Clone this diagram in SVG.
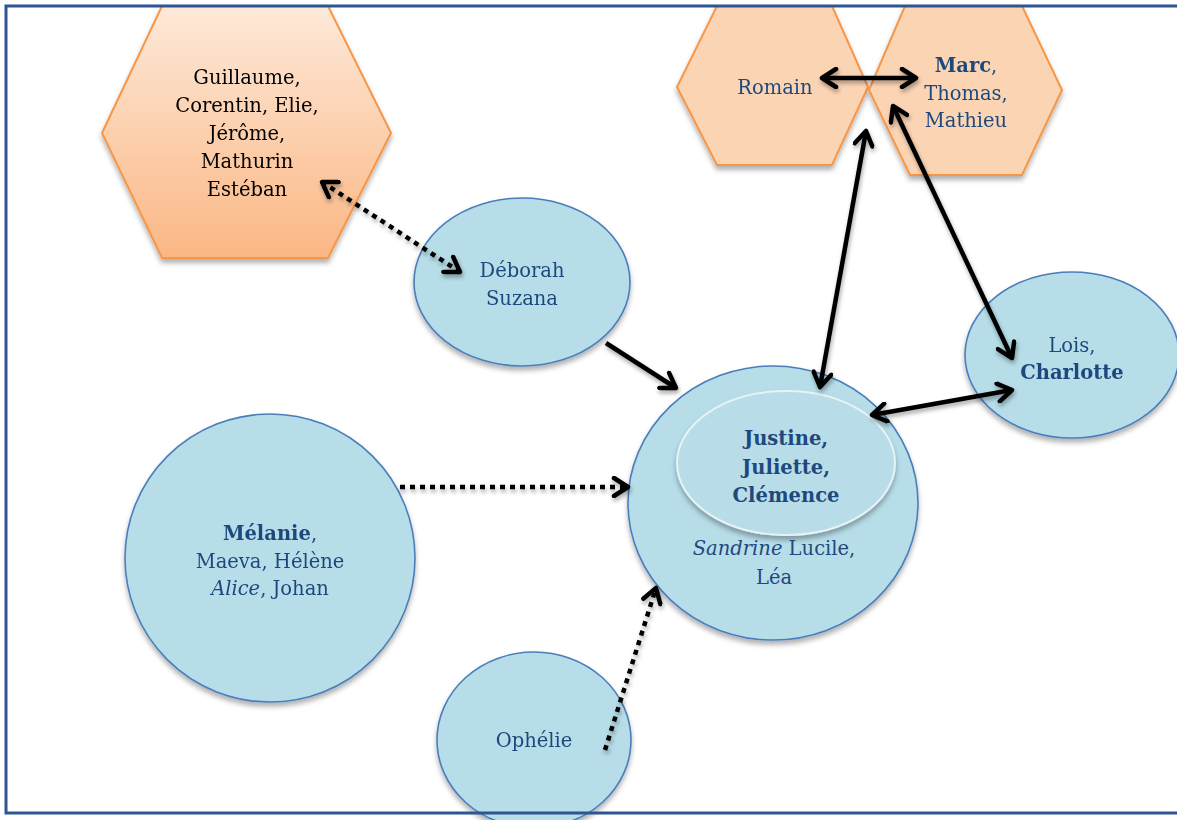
<svg xmlns="http://www.w3.org/2000/svg" width="1177" height="820" viewBox="0 0 1177 820">
<style>
.blue{fill:#b6dde8;stroke:#4a7ebb;stroke-width:1.6}
.hex{fill:#fbd4b4;stroke:#f79646;stroke-width:2}
.t{font-family:"DejaVu Serif","Liberation Serif",serif;font-size:19.5px;text-anchor:middle;fill:#1f497d}
.k{fill:#000}
.b{font-weight:bold}
.i{font-style:italic}
.c{fill:none;stroke:#000;stroke-width:4.5}
.d{stroke-dasharray:5 5}
</style>
<defs>
<linearGradient id="og" x1="0" y1="0" x2="0" y2="1">
<stop offset="0" stop-color="#fde9d9"/>
<stop offset="1" stop-color="#fbb784"/>
</linearGradient>
<filter id="sh" x="-20%" y="-20%" width="140%" height="150%">
<feDropShadow dx="0" dy="4" stdDeviation="2.5" flood-color="#000" flood-opacity="0.3"/>
</filter>
<filter id="ash" x="-20%" y="-20%" width="140%" height="140%">
<feDropShadow dx="1" dy="3" stdDeviation="2" flood-color="#000" flood-opacity="0.35"/>
</filter>
<marker id="ah" viewBox="0 0 22 22" markerUnits="userSpaceOnUse" markerWidth="22" markerHeight="22" refX="19" refY="11" orient="auto-start-reverse">
<path d="M5,2 L19,11 L5,20" fill="none" stroke="#000" stroke-width="4.5" stroke-linecap="round" stroke-linejoin="round"/>
</marker>
</defs>
<rect width="1177" height="820" fill="#fff"/>
<g id="nodes">
<g id="n-guillaume" filter="url(#sh)">
<polygon points="162,6 328,6 391,133 328,258 162,258 102,133" fill="url(#og)" stroke="#f79646" stroke-width="2"/>
<text class="t k" x="247" y="84">Guillaume,</text>
<text class="t k" x="247" y="112">Corentin, Elie,</text>
<text class="t k" x="247" y="140">Jérôme,</text>
<text class="t k" x="247" y="168">Mathurin</text>
<text class="t k" x="247" y="196">Estéban</text>
</g>
<g id="n-romain" filter="url(#sh)">
<polygon class="hex" points="717,6 832,6 868,87 832,165 717,165 677,87"/>
<text class="t" x="775" y="94">Romain</text>
</g>
<g id="n-marc" filter="url(#sh)">
<polygon class="hex" points="905,6 1022,6 1062,90 1022,175 910,175 869,90"/>
<text class="t" x="966" y="72"><tspan class="b">Marc</tspan>,</text>
<text class="t" x="966" y="100">Thomas,</text>
<text class="t" x="966" y="127">Mathieu</text>
</g>
<g id="n-deborah" filter="url(#sh)">
<ellipse class="blue" cx="522" cy="282" rx="108" ry="84"/>
<text class="t" x="522" y="277">Déborah</text>
<text class="t" x="522" y="305">Suzana</text>
</g>
<g id="n-lois" filter="url(#sh)">
<ellipse class="blue" cx="1072" cy="355" rx="107" ry="83"/>
<text class="t" x="1072" y="352">Lois,</text>
<text class="t b" x="1072" y="379">Charlotte</text>
</g>
<g id="n-melanie" filter="url(#sh)">
<ellipse class="blue" cx="270" cy="558" rx="145" ry="144"/>
<text class="t" x="270" y="540"><tspan class="b">Mélanie</tspan>,</text>
<text class="t" x="270" y="568">Maeva, Hélène</text>
<text class="t" x="270" y="595"><tspan class="i">Alice</tspan>, Johan</text>
</g>
<g id="n-ophelie" filter="url(#sh)">
<ellipse class="blue" cx="534" cy="740" rx="97" ry="88"/>
<text class="t" x="534" y="747">Ophélie</text>
</g>
<g id="n-justine">
<ellipse class="blue" cx="773" cy="503" rx="145" ry="137" filter="url(#sh)"/>
<ellipse cx="786" cy="463" rx="109" ry="72" fill="#b8dde8" stroke="#e6f2f6" stroke-width="2" filter="url(#sh)"/>
<text class="t b" x="786" y="445">Justine,</text>
<text class="t b" x="786" y="474">Juliette,</text>
<text class="t b" x="786" y="502">Clémence</text>
<text class="t" x="774" y="555"><tspan class="i">Sandrine</tspan> Lucile,</text>
<text class="t" x="774" y="584">Léa</text>
</g>
</g>
<g id="connectors" filter="url(#ash)">
<line class="c d" x1="322" y1="182" x2="460" y2="272" marker-start="url(#ah)" marker-end="url(#ah)"/>
<line class="c" x1="606" y1="343" x2="676" y2="388" marker-end="url(#ah)"/>
<line class="c d" x1="400" y1="487" x2="628" y2="487" marker-end="url(#ah)"/>
<line class="c d" x1="605" y1="750" x2="656" y2="588" marker-end="url(#ah)"/>
<line class="c" x1="866" y1="131" x2="820" y2="387" marker-start="url(#ah)" marker-end="url(#ah)"/>
<line class="c" x1="893" y1="106" x2="1012" y2="358" marker-start="url(#ah)" marker-end="url(#ah)"/>
<line class="c" x1="872" y1="415" x2="1012" y2="390" marker-start="url(#ah)" marker-end="url(#ah)"/>
<line class="c" x1="822" y1="78" x2="916" y2="78" marker-start="url(#ah)" marker-end="url(#ah)"/>
</g>
<rect id="frame" x="6" y="6" width="1190" height="807" fill="none" stroke="#2c5592" stroke-width="3"/>
</svg>
